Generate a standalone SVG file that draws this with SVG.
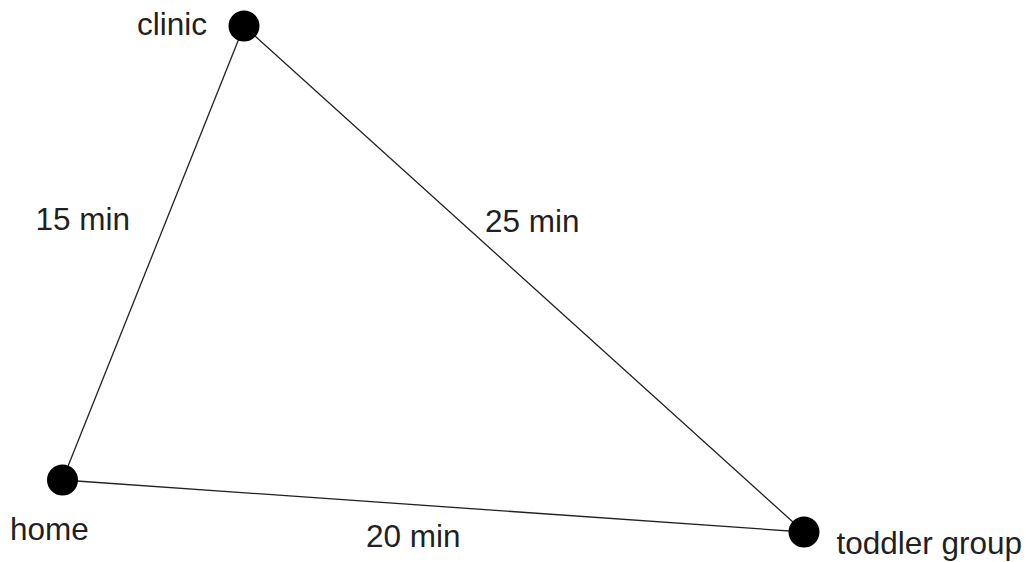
<svg xmlns="http://www.w3.org/2000/svg" width="1031" height="562" viewBox="0 0 1031 562">
<style>
.lbl{font-family:"Liberation Sans",Arial,sans-serif;font-size:31.5px;fill:#231f20}
.node{fill:#000}
.edge{stroke:#231f20;stroke-width:1.3;fill:none}
</style>
<rect width="1031" height="562" fill="#fff"/>
<g id="connectors">
<line class="edge" x1="244" y1="26" x2="62.5" y2="480"/>
<line class="edge" x1="244" y1="26" x2="804" y2="532"/>
<line class="edge" x1="62.5" y1="480" x2="804" y2="532"/>
<text class="lbl" x="35.5" y="230">15 min</text>
<text class="lbl" x="485" y="232">25 min</text>
<text class="lbl" x="366" y="547">20 min</text>
</g>
<g id="clinic">
<circle class="node" cx="244" cy="26" r="15.5"/>
<text class="lbl" x="137" y="35">clinic</text>
</g>
<g id="home">
<circle class="node" cx="62.5" cy="480" r="15.5"/>
<text class="lbl" x="10" y="540">home</text>
</g>
<g id="toddler">
<circle class="node" cx="804" cy="532" r="15.5"/>
<text class="lbl" x="836.5" y="554">toddler group</text>
</g>
</svg>
